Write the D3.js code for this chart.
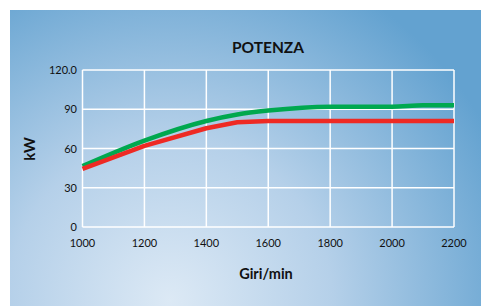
<!DOCTYPE html>
<html>
<head>
<meta charset="utf-8">
<script src="https://cdn.jsdelivr.net/npm/d3@7"></script>
<style>
  body { margin: 0; background: #fff; }
  svg { display: block; font-family: "Lato", "Open Sans", sans-serif; }
</style>
</head>
<body>
<svg id="chart" width="481" height="306"></svg>
<script>
// data
var giri = [1000, 1200, 1400, 1500, 1600, 1800, 2000, 2100, 2200];
var verde = [46.5, 66, 81, 86, 89, 92, 92, 93, 93];
var rosso = [44.5, 62, 75.5, 80, 81, 81, 81, 81, 81];
var xTicks = [1000, 1200, 1400, 1600, 1800, 2000, 2200];
var yTicks = [0, 30, 60, 90, 120];
var yLabels = ['0', '30', '60', '90', '120.0'];

var svg = d3.select('#chart');

// background
var defs = svg.append('defs');
var grad = defs.append('radialGradient')
  .attr('id', 'bg')
  .attr('gradientUnits', 'userSpaceOnUse')
  .attr('cx', 170).attr('cy', 300).attr('r', 360);
grad.append('stop').attr('offset', '0%').attr('stop-color', '#dce9f5');
grad.append('stop').attr('offset', '45%').attr('stop-color', '#b5d0e9');
grad.append('stop').attr('offset', '100%').attr('stop-color', '#63a2d0');

svg.append('rect')
  .attr('x', 10).attr('y', 10)
  .attr('width', 471).attr('height', 296)
  .attr('fill', 'url(#bg)');

var x = d3.scaleLinear().domain([1000, 2200]).range([82.5, 454]);
var y = d3.scaleLinear().domain([0, 120]).range([227, 70]);

// grid
svg.append('g').selectAll('line')
  .data(xTicks)
  .join('line')
  .attr('x1', function(d){ return x(d); })
  .attr('x2', function(d){ return x(d); })
  .attr('y1', y(0)).attr('y2', y(120))
  .attr('stroke', '#fff').attr('stroke-width', 1.5);

svg.append('g').selectAll('line')
  .data(yTicks)
  .join('line')
  .attr('x1', x(1000)).attr('x2', x(2200))
  .attr('y1', function(d){ return y(d); })
  .attr('y2', function(d){ return y(d); })
  .attr('stroke', '#fff').attr('stroke-width', 1.5);

// tick labels
svg.append('g').selectAll('text')
  .data(xTicks)
  .join('text')
  .attr('x', function(d){ return x(d); })
  .attr('y', 247)
  .attr('text-anchor', 'middle')
  .attr('font-size', 11)
  .attr('fill', '#111')
  .text(function(d){ return d; });

svg.append('g').selectAll('text')
  .data(yTicks)
  .join('text')
  .attr('x', 77)
  .attr('y', function(d){ return y(d) + 4; })
  .attr('text-anchor', 'end')
  .attr('font-size', 11)
  .attr('fill', '#111')
  .text(function(d, i){ return yLabels[i]; });

// lines
var lineSmooth = d3.line()
  .x(function(d){ return x(d[0]); })
  .y(function(d){ return y(d[1]); })
  .curve(d3.curveMonotoneX);

var lineStraight = d3.line()
  .x(function(d){ return x(d[0]); })
  .y(function(d){ return y(d[1]); });

svg.append('path')
  .datum(d3.zip(giri, verde))
  .attr('d', lineSmooth)
  .attr('fill', 'none')
  .attr('stroke', '#00a84f')
  .attr('stroke-width', 4.5);

svg.append('path')
  .datum(d3.zip(giri, rosso))
  .attr('d', lineStraight)
  .attr('fill', 'none')
  .attr('stroke', '#ee2a24')
  .attr('stroke-width', 4.5)
  .attr('stroke-linejoin', 'round');

// titles
svg.append('text')
  .attr('x', 268).attr('y', 53)
  .attr('text-anchor', 'middle')
  .attr('font-size', 15.5).attr('font-weight', 'bold')
  .attr('fill', '#111')
  .text('POTENZA');

svg.append('text')
  .attr('x', 266).attr('y', 279)
  .attr('text-anchor', 'middle')
  .attr('font-size', 14.5).attr('font-weight', 'bold')
  .attr('fill', '#111')
  .text('Giri/min');

svg.append('text')
  .attr('transform', 'translate(35,149) rotate(-90)')
  .attr('text-anchor', 'middle')
  .attr('font-size', 15).attr('font-weight', 'bold')
  .attr('fill', '#111')
  .text('kW');
</script>
</body>
</html>
